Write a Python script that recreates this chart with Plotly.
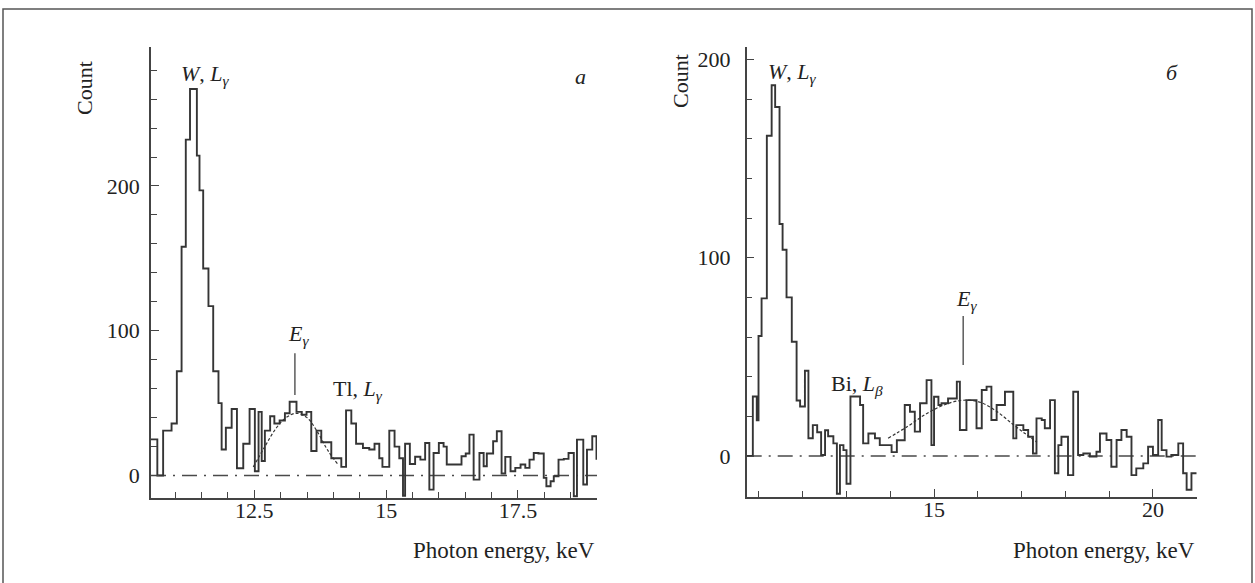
import plotly.graph_objects as go

# ---------------- data ----------------
# Panel a: step histogram, left bin edges (keV) and counts
a_edges = [10.54, 10.66, 10.77, 10.93, 11.03, 11.12, 11.20, 11.28, 11.41, 11.46,
           11.53, 11.63, 11.72, 11.82, 11.88, 11.96, 12.07, 12.17, 12.29, 12.41,
           12.51, 12.58, 12.64, 12.70, 12.80, 12.88, 12.98, 13.08, 13.17, 13.30,
           13.40, 13.49, 13.58, 13.68, 13.77, 13.96, 14.15, 14.24, 14.34, 14.43,
           14.56, 14.68, 14.78, 14.87, 14.93, 15.06, 15.16, 15.25, 15.32, 15.36,
           15.45, 15.55, 15.65, 15.74, 15.82, 15.90, 16.00, 16.09, 16.15, 16.43,
           16.51, 16.58, 16.66, 16.77, 16.85, 16.91, 17.03, 17.10, 17.19, 17.26,
           17.36, 17.45, 17.55, 17.64, 17.72, 17.80, 17.89, 17.99, 18.04, 18.12,
           18.18, 18.27, 18.37, 18.46, 18.56, 18.62, 18.74, 18.81, 18.91, 18.99, 19.0]
a_counts = [25, 0, 31, 36, 72, 158, 232, 267, 221, 197,
            143, 117, 72, 50, 18, 33, 46, 5, 22, 46,
            3, 44, 10, 31, 41, 36, 38, 43, 51, 44,
            42, 44, 17, 31, 23, 12, 6, 45, 36, 22,
            19, 18, 22, 12, 6, 31, 20, 12, -14, 22,
            8, 13, 11, 22.5, -9.7, 15.6, 22.5, 20, 7.6, 13.3,
            15.2, 28.3, -2.8, 15.6, 6.4, 15.2, 23.7, 30.6, 1.4, 12.9,
            3, 5.3, 7.6, 5.3, 11, 15.6, 15.2, -1.6, -7.4, -3.9,
            -0.5, 11, 11.5, 15.6, -14.3, 24.8, -6.2, 17.9, 27.1, 11.5, 11.5]

# Panel a: fitted curve (read points)
a_fit_e = [12.48, 12.70, 12.90, 13.10, 13.30, 13.50, 13.70, 13.90, 14.10]
a_fit_c = [6, 20, 32, 40, 43, 40, 30, 17, 7]

# Panel б: step histogram
b_edges = [10.72, 10.86, 10.95, 10.99, 11.06, 11.18, 11.29, 11.37, 11.47, 11.54,
           11.63, 11.75, 11.86, 11.94, 12.05, 12.13, 12.23, 12.33, 12.42, 12.51,
           12.58, 12.70, 12.78, 12.85, 12.93, 13.00, 13.09, 13.31, 13.38, 13.50,
           13.65, 13.76, 14.03, 14.15, 14.33, 14.45, 14.56, 14.68, 14.83, 14.94,
           15.00, 15.10, 15.17, 15.32, 15.52, 15.59, 15.74, 15.97, 16.09, 16.20,
           16.31, 16.43, 16.62, 16.81, 16.88, 17.04, 17.15, 17.26, 17.34, 17.46,
           17.53, 17.65, 17.76, 17.84, 17.91, 18.06, 18.18, 18.29, 18.41, 18.56,
           18.71, 18.79, 18.94, 19.05, 19.17, 19.28, 19.40, 19.51, 19.62, 19.78,
           19.89, 20.00, 20.12, 20.20, 20.31, 20.42, 20.58, 20.69, 20.77, 20.88, 21.0]
b_counts = [0, 30, 18, 60.5, 79.5, 161.5, 187, 176, 117, 104,
            80, 57.6, 28, 25, 43, 9, 15.6, 12, 0.5, 13,
            10, 6.4, -19, 5.5, 3, -14, 30, 25.7, 6.4, 11.4,
            9, 5.5, 2, 8, 25.7, 22.3, 12.3, 26.6, 38.3, 5.5,
            29.9, 25.7, 26.6, 29, 37.5, 13.1, 28.2, 14, 33.3, 35,
            18.2, 25.7, 32.4, 8.9, 15.6, 13.1, 9.7, 1.3, 19, 18.2,
            14, 28.2, -8.7, 5.5, 9.7, -9.6, 32.4, 0.5, 1.3, -0.3,
            2.2, 11.4, 8.1, -5.4, 8.1, 13.1, 9.7, -9.6, -6.2, -3.7,
            4.7, 0.5, 18.2, 3, -0.3, 0.5, 6.4, -8.7, -17, -8.7, -8.7]

# Panel б: fitted curve (read points)
b_fit_e = [13.95, 14.40, 14.80, 15.20, 15.60, 16.00, 16.40, 16.80, 17.10, 17.35]
b_fit_c = [9, 15, 21, 25.5, 28, 27.5, 23, 16, 11, 7]

# axis ranges
a_xrange = [10.54, 19.0]
a_yrange = [-15.3, 296]
b_xrange = [10.72, 21.0]
b_yrange = [-20.5, 206.4]

# E_gamma markers
a_marker_e, a_marker_c = 13.27, [55.6, 84.4]
b_marker_e, b_marker_c = 15.665, [45.9, 70.6]

# ---------------- figure ----------------
W, H = 1255, 583
HIST = dict(color="#353535", width=1.9)
FIT = dict(color="#333333", width=1.2, dash="3px,2px")
ZERO = dict(color="#4a4a4a", width=1.5, dash="15px,7px,2px,7px")
FONT = "Liberation Serif"

fig = go.Figure()
fig.add_trace(go.Scatter(x=a_xrange, y=[0, 0], mode="lines", line=ZERO,
                         xaxis="x", yaxis="y", hoverinfo="skip"))
fig.add_trace(go.Scatter(x=a_edges, y=a_counts, mode="lines", line=HIST,
                         line_shape="hv", xaxis="x", yaxis="y"))
fig.add_trace(go.Scatter(x=a_fit_e, y=a_fit_c, mode="lines", line=FIT,
                         line_shape="spline", xaxis="x", yaxis="y"))
fig.add_trace(go.Scatter(x=[a_marker_e, a_marker_e], y=a_marker_c, mode="lines",
                         line=dict(color="#333", width=1.2), xaxis="x", yaxis="y"))

fig.add_trace(go.Scatter(x=b_xrange, y=[0, 0], mode="lines", line=ZERO,
                         xaxis="x2", yaxis="y2", hoverinfo="skip"))
fig.add_trace(go.Scatter(x=b_edges, y=b_counts, mode="lines", line=HIST,
                         line_shape="hv", xaxis="x2", yaxis="y2"))
fig.add_trace(go.Scatter(x=b_fit_e, y=b_fit_c, mode="lines", line=FIT,
                         line_shape="spline", xaxis="x2", yaxis="y2"))
fig.add_trace(go.Scatter(x=[b_marker_e, b_marker_e], y=b_marker_c, mode="lines",
                         line=dict(color="#333", width=1.2), xaxis="x2", yaxis="y2"))


def px(x):
    return x / W


def py(y):
    return 1 - y / H


axis_common = dict(showgrid=False, zeroline=False, showline=True,
                   linecolor="#444", linewidth=1.5, ticks="inside",
                   ticklen=8, tickwidth=1.2, tickcolor="#444",
                   tickfont=dict(family=FONT, size=22, color="#222"),
                   fixedrange=True)
MINOR = dict(ticks="inside", ticklen=6, tickcolor="#444", tickwidth=1.2)

fig.update_layout(
    width=W, height=H,
    margin=dict(l=0, r=0, t=0, b=0),
    paper_bgcolor="white", plot_bgcolor="white",
    showlegend=False,
    xaxis=dict(domain=[px(151), px(597)], range=a_xrange, anchor="y",
               tickmode="linear", tick0=12.5, dtick=2.5,
               minor=dict(dtick=0.5, tick0=12.5, **MINOR),
               **axis_common),
    yaxis=dict(domain=[py(497.7), py(47)], range=a_yrange, anchor="x",
               tickmode="linear", tick0=0, dtick=100,
               minor=dict(dtick=20, tick0=0, **MINOR),
               ticklabelstandoff=5, **axis_common),
    xaxis2=dict(domain=[px(746.7), px(1196.7)], range=b_xrange, anchor="y2",
                tickmode="linear", tick0=15, dtick=5,
                minor=dict(dtick=1, tick0=15, **MINOR),
                **axis_common),
    yaxis2=dict(domain=[py(496.7), py(46.7)], range=b_yrange, anchor="x2",
                tickmode="linear", tick0=0, dtick=100,
                minor=dict(dtick=20, tick0=0, **MINOR),
                ticklabelstandoff=10, **axis_common),
)
fig.update_xaxes(ticklabelstandoff=-8)

# outer frame
fig.add_shape(type="rect", xref="paper", yref="paper",
              x0=px(3), x1=px(1252), y0=-0.05, y1=py(9),
              line=dict(color="#555", width=1.5))


def ann(text, x, y, xanchor="center", angle=0, size=22):
    fig.add_annotation(text=text, xref="paper", yref="paper", x=px(x), y=py(y),
                       xanchor=xanchor, yanchor="middle", showarrow=False,
                       textangle=angle, font=dict(family=FONT, size=size, color="#222"))


ann("Count", 85, 88, angle=-90)
ann("Count", 681, 81, angle=-90)
ann("Photon energy, keV", 597, 550, xanchor="right", size=23)
ann("Photon energy, keV", 1197, 550, xanchor="right", size=23)
ann("<i>W</i>, <i>L</i><sub><i>γ</i></sub>", 205, 75)
ann("<i>E</i><sub><i>γ</i></sub>", 298, 335)
ann("Tl, <i>L</i><sub><i>γ</i></sub>", 358, 390)
ann("<i>a</i>", 580, 76)
ann("<i>W</i>, <i>L</i><sub><i>γ</i></sub>", 793, 73)
ann("<i>E</i><sub><i>γ</i></sub>", 966, 300)
ann("Bi, <i>L</i><sub><i>β</i></sub>", 857, 385)
ann("<i>б</i>", 1172, 73)

fig.write_html("out.html", config={"displayModeBar": False},
               post_script="document.body.style.margin='0px';")
